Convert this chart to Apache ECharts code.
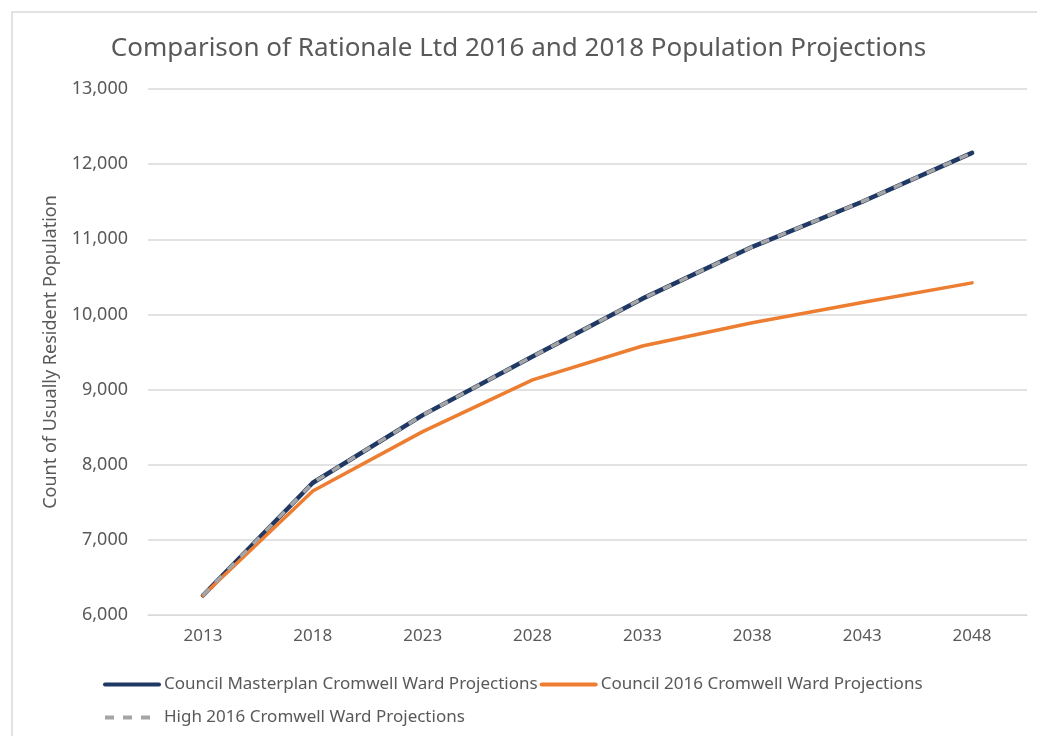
<!DOCTYPE html>
<html>
<head>
<meta charset="utf-8">
<style>
  html, body { margin: 0; padding: 0; background: #fff; }
  #chart { width: 1037px; height: 736px; }
</style>
<script src="https://cdn.jsdelivr.net/npm/echarts@6/dist/echarts.min.js"></script>
</head>
<body>
<div id="chart"></div>
<script>
// years on the category axis
const years = ['2013', '2018', '2023', '2028', '2033', '2038', '2043', '2048'];

const masterplan = [6260, 7760, 8660, 9440, 10210, 10900, 11500, 12150];
const council2016 = [6260, 7650, 8440, 9130, 9580, 9890, 10160, 10420];
const high2016 = [6260, 7760, 8660, 9440, 10210, 10900, 11500, 12150];

const yTicks = { min: 6000, max: 13000, step: 1000 };

const FONT = 'Noto Sans, sans-serif';
const TXT = '#595959';

const chart = echarts.init(document.getElementById('chart'));

const option = {
    backgroundColor: '#fff',
    animation: false,
    textStyle: { fontFamily: FONT },
    title: {
        text: 'Comparison of Rationale Ltd 2016 and 2018 Population Projections',
        left: 'center',
        top: 31,
        textStyle: { fontFamily: FONT, fontSize: 26, fontWeight: 'normal', color: TXT }
    },
    grid: {
        left: 148,
        right: 10,
        top: 89,
        bottom: 121
    },
    legend: {
        left: 98,
        top: 664,
        width: 850,
        itemWidth: 54,
        itemHeight: 4,
        itemGap: 2,
        itemStyle: { opacity: 0 },
        lineStyle: { width: 4 },
        textStyle: { fontFamily: FONT, fontSize: 17, color: TXT, lineHeight: 31 },
        data: [
            'Council Masterplan Cromwell Ward Projections',
            'Council 2016 Cromwell Ward Projections',
            'High 2016 Cromwell Ward Projections'
        ]
    },
    xAxis: {
        type: 'category',
        data: years,
        boundaryGap: true,
        axisLine: { show: true, lineStyle: { color: '#D9D9D9' } },
        axisTick: { show: false },
        axisLabel: { color: TXT, fontFamily: FONT, fontSize: 17, margin: 13 }
    },
    yAxis: {
        type: 'value',
        min: yTicks.min,
        max: yTicks.max,
        interval: yTicks.step,
        name: 'Count of Usually Resident Population',
        nameLocation: 'middle',
        nameGap: 88,
        nameRotate: 90,
        nameTextStyle: { color: TXT, fontFamily: FONT, fontSize: 18 },
        axisLine: { show: false },
        axisTick: { show: false },
        axisLabel: {
            color: TXT,
            fontFamily: FONT,
            fontSize: 18,
            margin: 20,
            formatter: v => v.toLocaleString('en-US')
        },
        splitLine: { lineStyle: { color: '#D9D9D9', width: 1.5 } }
    },
    series: [
        {
            name: 'Council Masterplan Cromwell Ward Projections',
            type: 'line',
            data: masterplan,
            symbol: 'none',
            z: 2,
            itemStyle: { color: '#1F3864' },
            lineStyle: { color: '#1F3864', width: 4.5, cap: 'round' }
        },
        {
            name: 'Council 2016 Cromwell Ward Projections',
            type: 'line',
            data: council2016,
            symbol: 'none',
            z: 3,
            itemStyle: { color: '#ED7D31' },
            lineStyle: { color: '#ED7D31', width: 3.5, cap: 'round' }
        },
        {
            name: 'High 2016 Cromwell Ward Projections',
            type: 'line',
            data: high2016,
            symbol: 'none',
            z: 4,
            itemStyle: { color: '#A5A5A5' },
            lineStyle: { color: '#A5A5A5', width: 3.5, type: [9, 9] }
        }
    ],
    graphic: [{
        type: 'rect',
        silent: true,
        z: -1,
        shape: { x: 12, y: 12, width: 1100, height: 800 },
        style: { fill: 'none', stroke: '#D9D9D9', lineWidth: 1.5 }
    }]
};

chart.setOption(option);
</script>
</body>
</html>
